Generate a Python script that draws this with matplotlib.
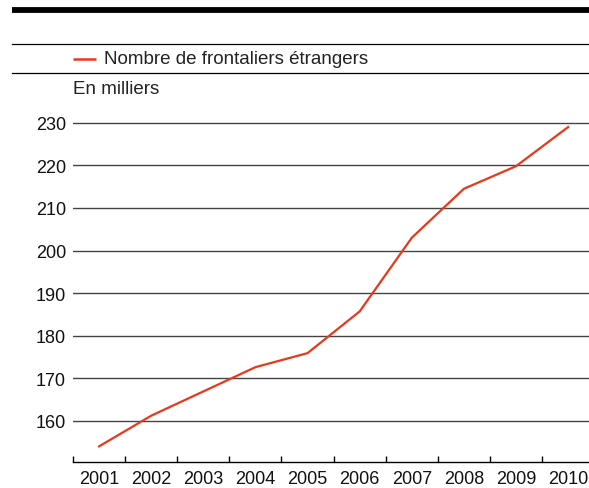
import matplotlib
matplotlib.use("Agg")
import matplotlib.pyplot as plt
from matplotlib.lines import Line2D

years = [2001, 2002, 2003, 2004, 2005, 2006, 2007, 2008, 2009, 2010]
frontaliers = [154.0, 161.2, 166.9, 172.6, 175.9, 185.7, 203.0, 214.5, 219.8, 229.0]
y_ticks = [160, 170, 180, 190, 200, 210, 220, 230]
series_label = "Nombre de frontaliers étrangers"
unit_label = "En milliers"

W, H = 589, 489
red = "#e8381c"
plt.rcParams['font.family'] = ['Liberation Sans', 'DejaVu Sans']

fig = plt.figure(figsize=(W / 100, H / 100), dpi=100)

def fx(px):
    return px / W

def fy(py):
    return 1 - py / H

# axes placed in pixel terms
ax = fig.add_axes([fx(73), fy(462.7), fx(W) - fx(73), fy(111) - fy(462.7)])
ax.plot(years, frontaliers, color=red, lw=1.6, solid_joinstyle='miter')

ax.set_xlim(2000.5, 2010.4)
ax.set_ylim(150.4, 233)
ax.set_yticks(y_ticks)
ax.set_xticks(years)
ax.set_xticks([y - 0.5 for y in years], minor=True)
ax.tick_params(axis='x', which='major', length=0, pad=6, labelsize=13, labelcolor='#111111')
ax.tick_params(axis='x', which='minor', direction='in', length=4.5, width=1, color='black')
ax.tick_params(axis='y', length=0, pad=5, labelsize=13, labelcolor='#111111')
ax.grid(axis='y', color='#444444', lw=1)
ax.set_axisbelow(True)
for s in ['top', 'right', 'left']:
    ax.spines[s].set_visible(False)
ax.spines['bottom'].set_linewidth(1)

# header rules
fig.add_artist(Line2D([fx(12), 1], [fy(11.2), fy(11.2)], color='black', lw=4.2,
                      transform=fig.transFigure, solid_capstyle='butt'))
fig.add_artist(Line2D([fx(12), 1], [fy(45), fy(45)], color='black', lw=0.9,
                      transform=fig.transFigure))
fig.add_artist(Line2D([fx(12), 1], [fy(74.3), fy(74.3)], color='black', lw=0.9,
                      transform=fig.transFigure))

# legend
fig.add_artist(Line2D([fx(73), fx(96)], [fy(59.5), fy(59.5)], color=red, lw=1.8,
                      transform=fig.transFigure, solid_capstyle='butt'))
fig.text(fx(104), fy(60), series_label, fontsize=13.5, va='center', ha='left', color='#222222')
fig.text(fx(73), fy(89), unit_label, fontsize=13.5, va='center', ha='left', color='#222222')

fig.savefig("out.png", dpi=100)
